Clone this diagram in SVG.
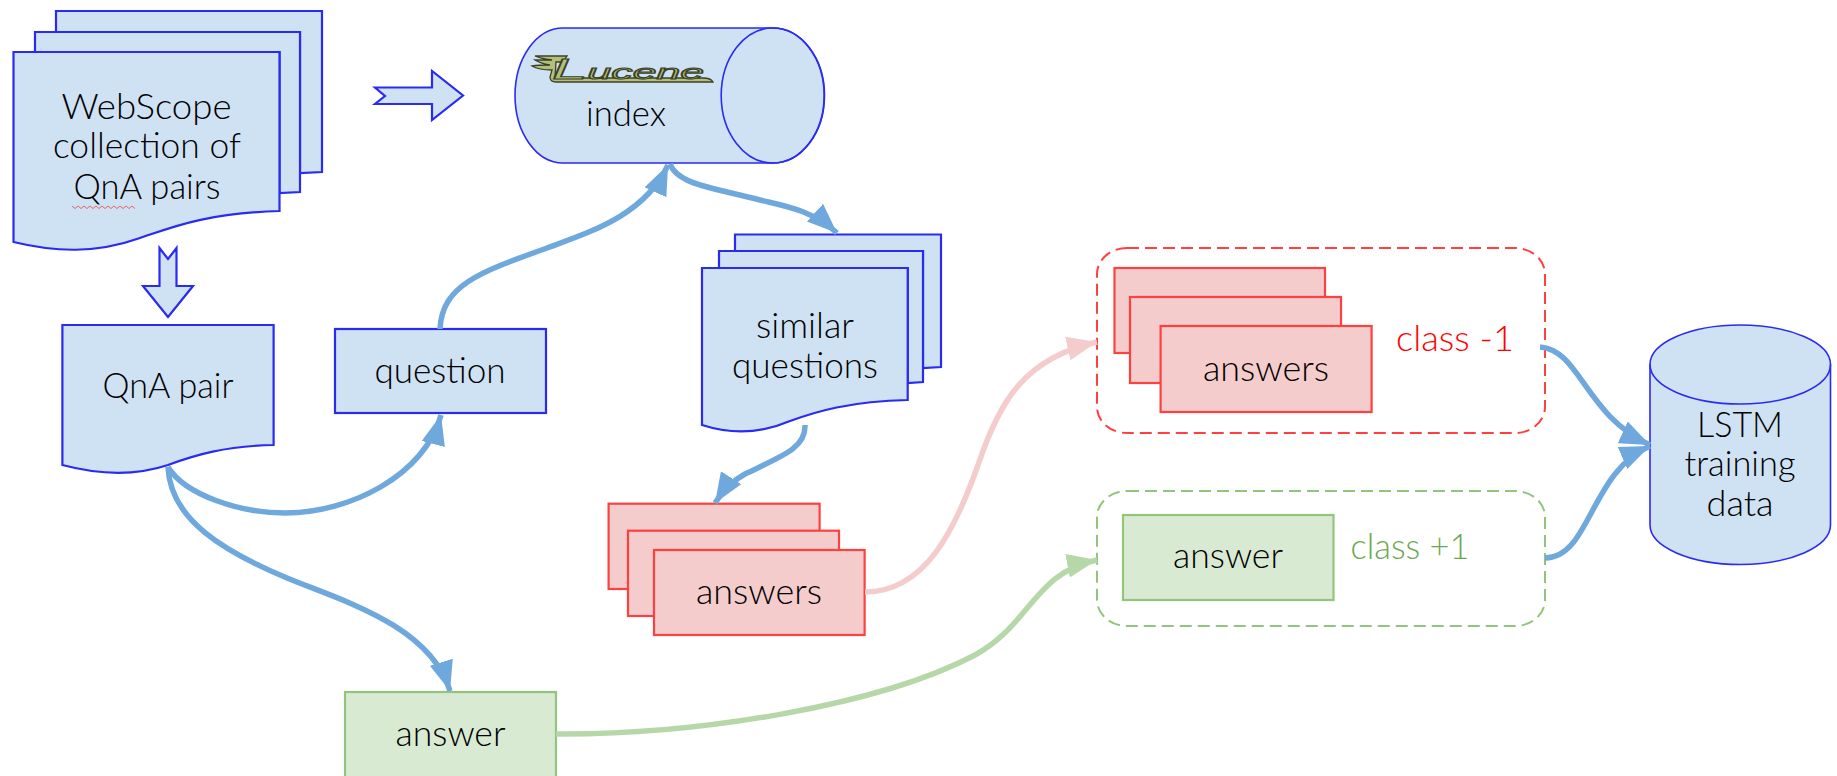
<svg xmlns="http://www.w3.org/2000/svg" width="1837" height="776" viewBox="0 0 1837 776">
<style>
.b{fill:#cfe2f3;stroke:#2a2af5;stroke-width:2.2}
.l{stroke-width:1.600}
.r{fill:#f4cccc;stroke:#ff4040;stroke-width:2.2}
.g{fill:#d9ead3;stroke:#93c47d;stroke-width:2.2}
.t{font-family:"Lato","Liberation Sans",sans-serif;font-weight:300;font-size:35px;fill:#000;text-anchor:middle}
.c{fill:none;stroke-width:5.500}
.cb{stroke:#6fa8dc}.cp{stroke:#f4cccc}.cg{stroke:#b6d7a8}
</style>
<defs>
<marker id="hb" markerUnits="userSpaceOnUse" markerWidth="32" markerHeight="28" refX="30" refY="14" orient="auto"><path d="M0 2L30 14L0 26Z" fill="#6fa8dc"/></marker>
<marker id="hp" markerUnits="userSpaceOnUse" markerWidth="32" markerHeight="28" refX="30" refY="14" orient="auto"><path d="M0 2L30 14L0 26Z" fill="#f4cccc"/></marker>
<marker id="hg" markerUnits="userSpaceOnUse" markerWidth="32" markerHeight="28" refX="30" refY="14" orient="auto"><path d="M0 2L30 14L0 26Z" fill="#b6d7a8"/></marker>
</defs>
<rect width="1837" height="776" fill="#fff"/>
<g id="group-class-minus1"><rect x="1097" y="248" width="448" height="185" rx="30" ry="26" fill="none" stroke="#ff4040" stroke-width="2" stroke-dasharray="12 6"/><text class="t" x="1455" y="351" textLength="118" lengthAdjust="spacingAndGlyphs" style="fill:#ff0000">class -1</text></g>
<g id="group-class-plus1"><rect x="1097" y="491" width="448" height="135" rx="30" ry="26" fill="none" stroke="#93c47d" stroke-width="2" stroke-dasharray="12 6"/><text class="t" x="1410" y="559" textLength="119" lengthAdjust="spacingAndGlyphs" style="fill:#6aa84f">class +1</text></g>
<g id="webscope">
<path class="b" d="M56 11H322V172L300 173V32H56Z"/>
<path class="b" d="M35 32H300V192L279.500 193V52H35Z"/>
<path class="b" d="M13.500 52H279.500V211C205 213 170 228 140 238C95 254 55 252 13.500 242Z"/>
<text class="t" x="146.500" y="119" textLength="170" lengthAdjust="spacingAndGlyphs">WebScope</text>
<text class="t" x="147" y="158" textLength="188" lengthAdjust="spacingAndGlyphs">collection of</text>
<text class="t" x="147" y="199" textLength="147" lengthAdjust="spacingAndGlyphs">QnA pairs</text>
<path d="M72 206l3 2.500l3 -2.500l3 2.500l3 -2.500l3 2.500l3 -2.500l3 2.500l3 -2.500l3 2.500l3 -2.500l3 2.500l3 -2.500l3 2.500l3 -2.500l3 2.500l3 -2.500l3 2.500l3 -2.500l3 2.500l3 -2.500l3 2.500" fill="none" stroke="#e06666" stroke-width="1"/>
</g>
<g id="arrow-right"><path class="b" d="M375 87.500H432V71L463 95.500L432 120V104H375L385 96Z"/></g>
<g id="arrow-down"><path class="b" d="M159.500 248L168 259L176.500 248V286H193L168 317L143 286H159.500Z"/></g>
<g id="index">
<path class="b l" d="M563 28H773A51.500 67.500 0 0 1 773 163H563A48 67.500 0 0 1 563 28Z"/>
<ellipse class="b l" cx="772.700" cy="95.500" rx="51.500" ry="67.500" style="fill:none"/>
<path d="M535 56H567L563 62H556L555 78H703Q711 78 713 82H556Q550 82 550 77L552 70C545 70 537 69 532 66C538 65 544 65 550 65C544 64 538 62 535 60C540 60 545 60 552 60C545 59 539 58 535 56Z" fill="#b4c07a" stroke="#3b4028" stroke-width="1.300"/>
<text x="552" y="79" textLength="152" lengthAdjust="spacingAndGlyphs" style="font-family:'Liberation Sans',sans-serif;font-style:italic;font-size:20px;fill:#b4c07a;stroke:#3b4028;stroke-width:1"><tspan font-size="30">L</tspan>ucene</text>
<text class="t" x="626" y="126" textLength="80" lengthAdjust="spacingAndGlyphs">index</text>
</g>
<g id="similar">
<path class="b" d="M735 234.500H941V367L923 368V251H735Z"/>
<path class="b" d="M719 251H923V382L907.700 383V268H719Z"/>
<path class="b" d="M702 268H907.700V400C850 401 815 412 790 421C760 434 730 434 702 425Z"/>
<text class="t" x="805" y="338" textLength="98" lengthAdjust="spacingAndGlyphs">similar</text>
<text class="t" x="805" y="378" textLength="146" lengthAdjust="spacingAndGlyphs">questions</text>
</g>
<g id="qna"><path class="b" d="M62.400 325H273.600V445C225 446 195 455 168 465C135 476 100 475 62.400 465Z"/>
<text class="t" x="168" y="398" textLength="131" lengthAdjust="spacingAndGlyphs">QnA pair</text></g>
<g id="question"><rect class="b" x="335" y="329" width="211" height="84"/><text class="t" x="440" y="383" textLength="131" lengthAdjust="spacingAndGlyphs">question</text></g>
<g id="answers-a">
<rect class="r" x="608.600" y="503.700" width="211" height="85.300"/>
<rect class="r" x="628" y="530.700" width="211" height="85.300"/>
<rect class="r" x="654" y="550" width="210.600" height="85"/>
<text class="t" x="759" y="604" textLength="126" lengthAdjust="spacingAndGlyphs">answers</text>
</g>
<g id="answer-a"><rect class="g" x="345" y="692" width="211" height="100"/><text class="t" x="450.500" y="746" textLength="110" lengthAdjust="spacingAndGlyphs">answer</text></g>
<g id="answers-b">
<rect class="r" x="1114.500" y="268" width="210.500" height="85"/>
<rect class="r" x="1130" y="297" width="211" height="86"/>
<rect class="r" x="1160.600" y="326" width="211" height="86"/>
<text class="t" x="1266" y="381" textLength="126" lengthAdjust="spacingAndGlyphs">answers</text>
</g>
<g id="answer-b"><rect class="g" x="1123" y="515" width="210.500" height="85"/><text class="t" x="1228" y="568" textLength="110" lengthAdjust="spacingAndGlyphs">answer</text></g>
<g id="lstm">
<path class="b l" d="M1650 364.500A90.250 39.500 0 0 1 1830.500 364.500V525A90.250 39.500 0 0 1 1650 525Z"/>
<path class="b l" d="M1650 364.500A90.250 39.500 0 0 0 1830.500 364.500" style="fill:none"/>
<text class="t" x="1740" y="437" textLength="86" lengthAdjust="spacingAndGlyphs">LSTM</text>
<text class="t" x="1740" y="476" textLength="111" lengthAdjust="spacingAndGlyphs">training</text>
<text class="t" x="1740" y="516" textLength="67" lengthAdjust="spacingAndGlyphs">data</text>
</g>
<g id="connectors">
<path class="c cb" marker-end="url(#hb)" d="M670 164C678 185 715 188 760 200C785 206 812 210 837 233"/>
<path class="c cb" marker-end="url(#hb)" d="M440 329C442 285 480 272 547 248C590 232 645 215 668 165"/>
<path class="c cb" marker-end="url(#hb)" d="M168 467C185 495 240 513 285 513C350 513 425 475 441 415"/>
<path class="c cb" marker-end="url(#hb)" d="M168 467C170 520 225 552 287 578C340 600 430 625 450 691"/>
<path class="c cb" marker-end="url(#hb)" d="M805 425C806 448 782 456 745 474C732 481 722 492 715 503"/>
<path class="c cp" marker-end="url(#hp)" d="M865 592C925 592 955 530 978 465C1000 400 1025 358 1097 342"/>
<path class="c cg" marker-end="url(#hg)" d="M556 734C700 735 880 705 975 655C1030 625 1035 572 1097 560"/>
<path class="c cb" marker-end="url(#hb)" d="M1540 347C1580 350 1585 415 1650 445"/>
<path class="c cb" marker-end="url(#hb)" d="M1545 558C1590 558 1590 472 1650 446"/>
</g>
</svg>
